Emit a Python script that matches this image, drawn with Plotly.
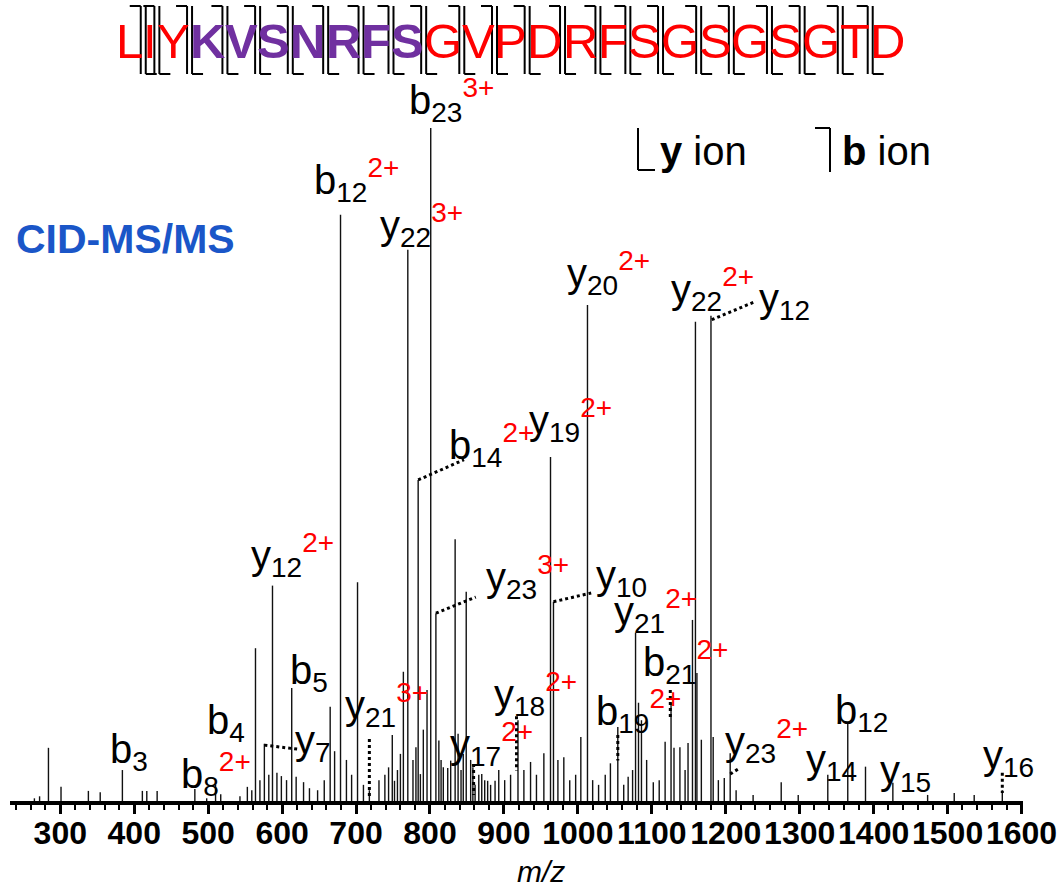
import plotly.graph_objects as go

# ---------------- data ----------------
mz = [265, 272, 284, 301, 338, 354, 384, 411, 417, 431,
      482, 498, 510, 517, 543, 553, 559, 564, 570, 576,
      582, 587, 593, 599, 606, 613, 619, 629, 637, 648,
      657, 665, 671, 679, 687, 694, 702, 710, 718, 731,
      739, 744, 749, 752, 756, 760, 764, 770, 777, 781,
      784, 787, 791, 796, 801, 808, 812, 815, 818, 824,
      828, 834, 838, 842, 845, 849, 855, 858, 861, 866,
      870, 874, 878, 882, 888, 893, 901, 909, 919, 927,
      936, 944, 954, 963, 967, 973, 981, 989, 997, 1004,
      1013, 1020, 1028, 1037, 1044, 1054, 1062, 1068, 1074, 1078,
      1082, 1086, 1093, 1102, 1110, 1118, 1126, 1130, 1138, 1145,
      1149, 1155, 1159, 1161, 1167, 1180, 1183, 1190, 1198, 1206,
      1214, 1237, 1275, 1298, 1338, 1365, 1389, 1426, 1473, 1509,
      1536, 1574]
intensity = [0.4, 0.7, 7.9, 2.1, 1.5, 1.3, 4.6, 1.5, 1.5, 1.5,
             1.8, 0.4, 2.4, 1.0, 0.7, 2.1, 1.6, 22.7, 3.1, 8.5,
             3.9, 32.0, 4.2, 3.7, 3.1, 16.8, 3.6, 2.8, 1.9, 1.6,
             3.1, 14.0, 7.4, 87.1, 6.1, 3.9, 32.5, 2.4, 1.6, 3.1,
             3.9, 5.0, 9.8, 3.0, 4.6, 7.0, 19.2, 81.9, 6.1, 8.0,
             47.7, 4.0, 10.6, 16.5, 100.0, 27.9, 9.0, 6.1, 5.0, 4.9,
             6.0, 38.9, 10.0, 4.6, 7.0, 31.1, 6.1, 5.0, 2.4, 3.9,
             4.0, 3.1, 3.0, 2.4, 3.0, 4.6, 3.1, 3.9, 12.0, 4.6,
             5.8, 3.9, 7.1, 51.1, 29.6, 6.1, 6.5, 3.1, 3.9, 9.5,
             73.7, 3.1, 2.4, 3.9, 5.6, 11.0, 2.4, 3.6, 4.6, 25.0,
             14.6, 12.0, 6.1, 2.8, 3.1, 8.8, 14.6, 7.9, 8.0, 4.6,
             8.6, 26.9, 71.2, 19.0, 9.1, 72.1, 9.5, 3.1, 3.4, 7.1,
             1.6, 0.9, 2.8, 0.9, 3.9, 11.6, 5.1, 2.7, 0.9, 1.2,
             0.9, 1.6]

# ion labels: (ion type, index, charge)
ion_type = ["b", "b", "y", "y", "y", "y", "b", "y", "y", "y", "y", "y", "b", "b",
            "b", "y", "y", "y", "b", "y", "b", "b", "y", "b", "y", "y", "y"]
ion_index = ["23", "12", "22", "20", "22", "12", "14", "19", "12", "23", "10", "21", "5", "21",
             "4", "7", "21", "18", "19", "17", "3", "8", "23", "12", "14", "15", "16"]
ion_charge = ["3+", "2+", "3+", "2+", "2+", "", "2+", "2+", "2+", "3+", "", "2+", "", "2+",
              "", "", "3+", "2+", "2+", "2+", "", "2+", "2+", "", "", "", ""]

# dotted connectors between a peak and its label: (m/z, intensity) -> (m/z, intensity)
conn_mz0 = [784, 808, 967, 1181, 576, 718, 859, 917, 1054, 1125, 1206, 1574]
conn_i0 = [47.7, 27.9, 29.6, 71.5, 8.3, 9.2, 5.5, 12.6, 9.8, 16.5, 4.0, 4.2]
conn_mz1 = [846, 862, 1018, 1240, 621, 718, 859, 917, 1054, 1125, 1219, 1574]
conn_i1 = [50.7, 30.3, 30.9, 74.2, 7.7, 0.4, 0.9, 4.5, 6.0, 12.2, 4.9, 1.2]

sequence = list("LIYKVSNRFSGVPDRFSGSGSGTD")
seq_purple = [False] * 3 + [True] * 7 + [False] * 14

tick_values = list(range(300, 1601, 100))

# ---------------- layout helpers ----------------
W, H = 1063, 888
PL, PR, PT, PB = 10, 1023, 0, 801          # plot area in pixels


def px(x):
    return (x - PL) / (PR - PL)


def py(y):
    return (PB - y) / (PB - PT)


FONT = "Liberation Sans, Arial, sans-serif"
RED = "#ff0000"
PURPLE = "#7030a0"

# ---------------- figure ----------------
xs, ys = [], []
for m, v in zip(mz, intensity):
    xs += [m, m, None]
    ys += [0, v, None]

fig = go.Figure()
fig.add_trace(go.Scatter(x=xs, y=ys, mode="lines",
                         line=dict(color="#111111", width=1.4),
                         hoverinfo="skip", showlegend=False))

shapes = []
annotations = []

# dotted connectors
for a, b, c, d in zip(conn_mz0, conn_i0, conn_mz1, conn_i1):
    shapes.append(dict(type="line", xref="x", yref="y", x0=a, y0=b, x1=c, y1=d,
                       line=dict(color="black", width=3, dash="dot")))

# ion label positions (left edge px, vertical centre px)
label_pos = [(407, 103), (312, 183), (378, 228), (565, 276), (669, 292), (757, 304),
             (447, 448), (527, 423), (249, 558), (484, 580), (594, 581), (612, 614),
             (288, 676), (641, 665), (205, 726), (293, 746), (343, 708), (492, 697),
             (594, 714), (448, 747), (108, 755), (179, 777), (723, 744), (833, 716),
             (804, 765), (878, 776), (981, 761)]

for t, i, c, (lx, ly) in zip(ion_type, ion_index, ion_charge, label_pos):
    txt = f"{t}<sub>{i}</sub>"
    if c:
        txt += f"<sup><span style='color:{RED}'>{c}</span></sup>"
    annotations.append(dict(text=txt, x=px(lx), y=py(ly - 3), xref="paper", yref="paper",
                            xanchor="left", yanchor="middle", showarrow=False,
                            font=dict(family=FONT, size=40, color="black")))

# peptide sequence with fragment brackets
em = {"L": 0.556, "I": 0.278, "Y": 0.667, "K": 0.722, "V": 0.667, "S": 0.667, "N": 0.722,
      "R": 0.722, "F": 0.611, "G": 0.778, "P": 0.667, "D": 0.722, "T": 0.611}
fs = 49
cur = 116.0
bounds = []
for k, (ch, pu) in enumerate(zip(sequence, seq_purple)):
    w = em[ch] * fs
    annotations.append(dict(text=f"<b>{ch}</b>" if pu else ch, x=px(cur + w / 2), y=py(41),
                            xref="paper", yref="paper", xanchor="center", yanchor="middle",
                            showarrow=False,
                            font=dict(family=FONT, size=fs, color=PURPLE if pu else RED)))
    cur += w
    if k < len(sequence) - 1:
        bounds.append(cur)

top, bot, hook = 6, 74, 11
for bx in bounds:
    xb = bx - 2.5
    xy = bx + 2.5
    for (x0, y0, x1, y1) in [(xb - hook, top, xb, top), (xb, top, xb, bot),
                             (xy, top, xy, bot), (xy, bot, xy + hook, bot)]:
        shapes.append(dict(type="line", xref="paper", yref="paper",
                           x0=px(x0), y0=py(y0), x1=px(x1), y1=py(y1),
                           line=dict(color="black", width=2)))

# legend of bracket symbols
for (x0, y0, x1, y1) in [(638, 128, 638, 170), (638, 170, 655, 170),
                         (815, 128, 830, 128), (830, 128, 830, 172)]:
    shapes.append(dict(type="line", xref="paper", yref="paper",
                       x0=px(x0), y0=py(y0), x1=px(x1), y1=py(y1),
                       line=dict(color="black", width=2)))
annotations.append(dict(text="<b>y</b> ion", x=px(658), y=py(151), xref="paper", yref="paper",
                        xanchor="left", yanchor="middle", showarrow=False,
                        font=dict(family=FONT, size=40, color="black")))
annotations.append(dict(text="<b>b</b> ion", x=px(840), y=py(151), xref="paper", yref="paper",
                        xanchor="left", yanchor="middle", showarrow=False,
                        font=dict(family=FONT, size=40, color="black")))

# method label
annotations.append(dict(text="<b>CID-MS/MS</b>", x=px(14), y=py(239), xref="paper", yref="paper",
                        xanchor="left", yanchor="middle", showarrow=False,
                        font=dict(family=FONT, size=41, color="#1a56c8")))

# axis title
annotations.append(dict(text="<i>m/z</i>", x=px(541), y=py(871), xref="paper", yref="paper",
                        xanchor="center", yanchor="middle", showarrow=False,
                        font=dict(family=FONT, size=30, color="black")))

fig.update_layout(
    width=W, height=H,
    margin=dict(l=PL, r=W - PR, t=PT, b=H - PB, autoexpand=False),
    paper_bgcolor="white", plot_bgcolor="white",
    shapes=shapes, annotations=annotations,
    xaxis=dict(range=[232, 1602], showline=True, linecolor="black", linewidth=4,
               ticks="outside", ticklen=9, tickwidth=3, tickcolor="black",
               tickmode="array", tickvals=tick_values,
               ticktext=[str(v) for v in tick_values],
               ticklabelstandoff=-8,
               tickfont=dict(family=FONT, size=32, color="black", weight="bold"),
               showgrid=False, zeroline=False, automargin=False,
               minor=dict(dtick=20, tick0=0, ticks="outside", ticklen=5, tickwidth=2,
                          tickcolor="black", showgrid=False)),
    yaxis=dict(range=[0, 119], visible=False, fixedrange=True),
)

fig.write_html("out.html")
